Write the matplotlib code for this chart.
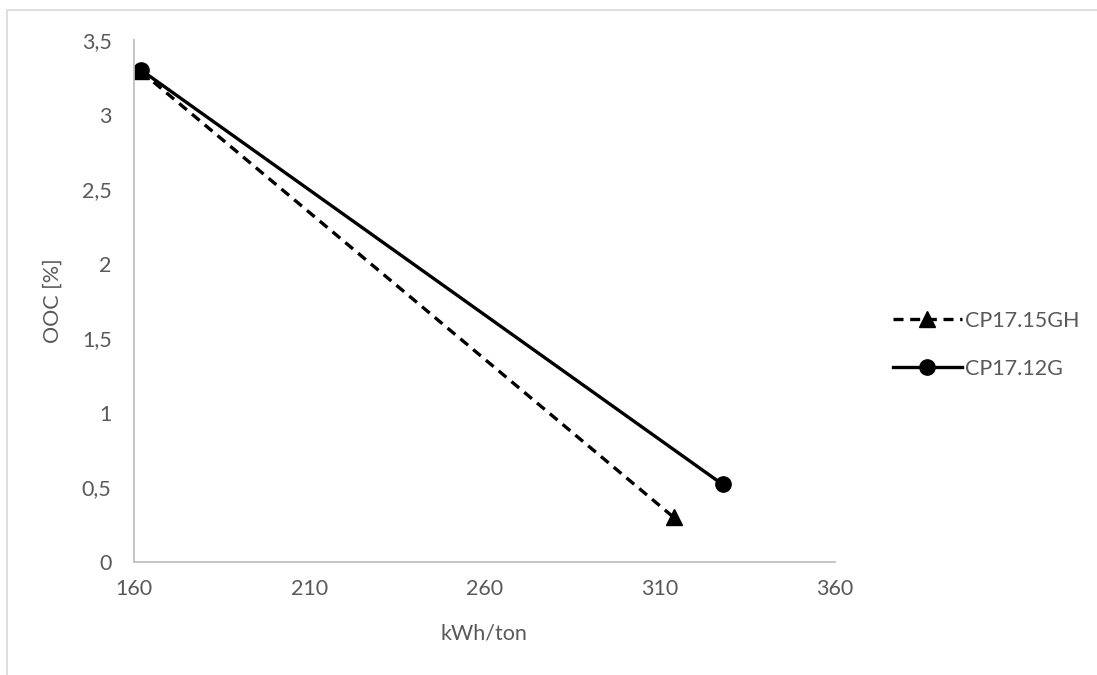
import matplotlib.pyplot as plt
from matplotlib.patches import Rectangle
from matplotlib.ticker import FuncFormatter

# data
energy_15gh = [162, 314]
ooc_15gh = [3.29, 0.30]

energy_12g = [162, 328]
ooc_12g = [3.30, 0.52]

x_ticks = [160, 210, 260, 310, 360]
y_ticks = [0, 0.5, 1, 1.5, 2, 2.5, 3, 3.5]

text_grey = '#595959'
axis_grey = '#bfbfbf'
fs = 15.5

plt.rcParams['font.family'] = ['Lato', 'DejaVu Sans']

fig = plt.figure(figsize=(10.97, 6.75), dpi=100)
ax = fig.add_axes([0.122, 0.1674, 0.639, 0.7733])

# chart area border (only top and left visible in the original)
fig.patches.append(Rectangle((7 / 1097, -0.1), 1.2, 1.1 - 10 / 675,
                             transform=fig.transFigure, fill=False,
                             edgecolor='#d9d9d9', linewidth=1.2))

ax.plot(energy_15gh, ooc_15gh, color='black', linestyle=(0, (3, 2)),
        linewidth=2.4, marker='^', markersize=11, label='CP17.15GH')
ax.plot(energy_12g, ooc_12g, color='black', linestyle='-',
        linewidth=2.4, marker='o', markersize=11, label='CP17.12G')

ax.set_xlim(160, 360)
ax.set_ylim(0, 3.5)
ax.set_xticks(x_ticks)
ax.set_yticks(y_ticks)
ax.yaxis.set_major_formatter(FuncFormatter(lambda v, p: f'{v:g}'.replace('.', ',')))

for side in ['top', 'right']:
    ax.spines[side].set_visible(False)
for side in ['left', 'bottom']:
    ax.spines[side].set_color(axis_grey)
    ax.spines[side].set_linewidth(1.3)

ax.tick_params(length=0, labelsize=fs, colors=text_grey, pad=12)
ax.tick_params(axis='y', pad=16)

ax.set_xlabel('kWh/ton', fontsize=fs, color=text_grey, labelpad=18)
ax.set_ylabel('OOC [%]', fontsize=fs, color=text_grey, labelpad=14)

leg = ax.legend(loc='center left', bbox_to_anchor=(1.055, 0.416), frameon=False,
                fontsize=fs, handlelength=3.2, handletextpad=0.15,
                labelspacing=1.3)
for t in leg.get_texts():
    t.set_color(text_grey)

fig.savefig('out.png', dpi=100, facecolor='white')
